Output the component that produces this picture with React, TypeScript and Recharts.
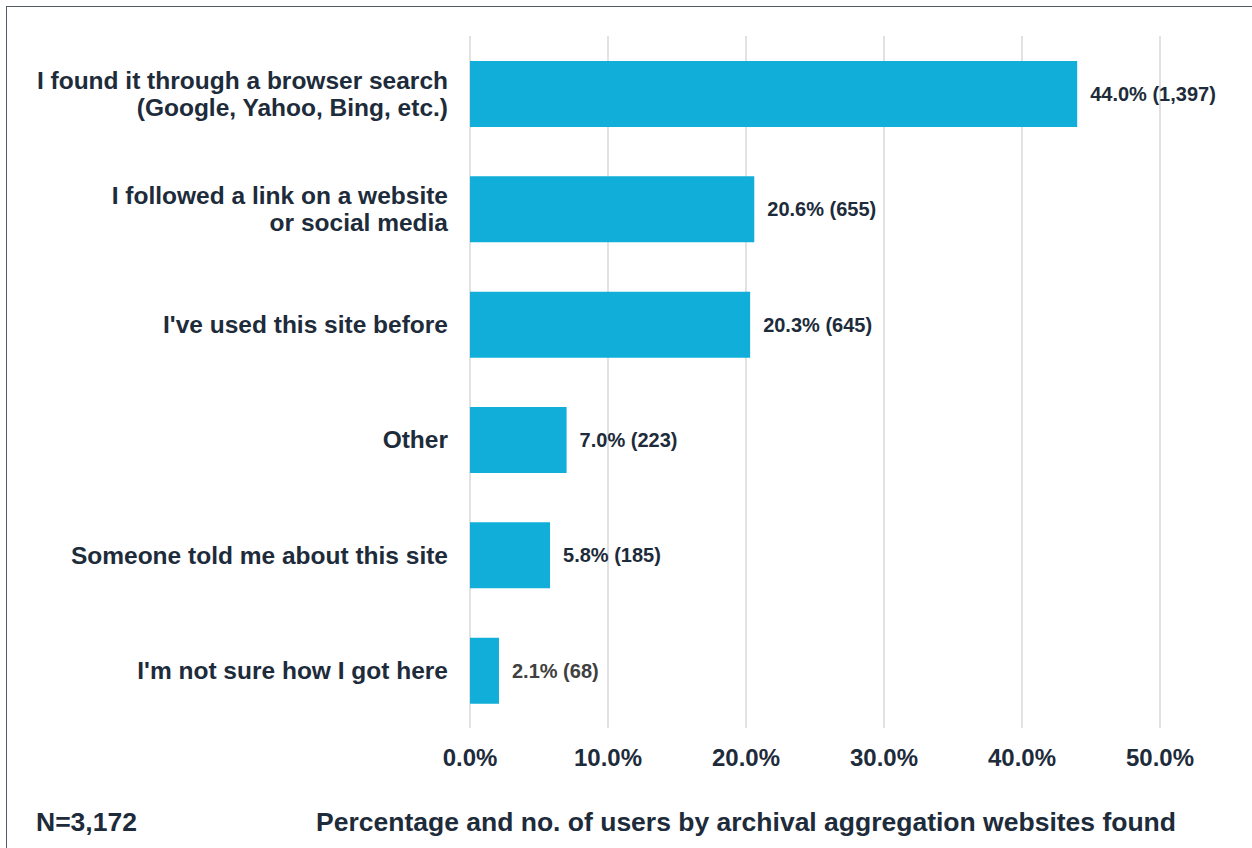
import React from "react";
import {
  BarChart,
  Bar,
  XAxis,
  YAxis,
  CartesianGrid,
  LabelList,
} from "recharts";

const categories = [
  "I found it through a browser search\n(Google, Yahoo, Bing, etc.)",
  "I followed a link on a website\nor social media",
  "I've used this site before",
  "Other",
  "Someone told me about this site",
  "I'm not sure how I got here",
];
const percents = [44.0, 20.6, 20.3, 7.0, 5.8, 2.1];
const counts = [1397, 655, 645, 223, 185, 68];
const xTicks = [0, 10, 20, 30, 40, 50];

const FONT = "'Liberation Sans', Arial, sans-serif";
const TEXT = "#1d2b3a";
const BAR = "#10aed8";

const data = categories.map((name, i) => ({
  name,
  value: percents[i],
  label: `${percents[i].toFixed(1)}% (${counts[i].toLocaleString("en-US")})`,
}));

function YTick(props: any) {
  const { y, payload } = props;
  const lines = String(payload.value).split("\n");
  const lh = 27;
  return (
    <text
      x={448}
      y={y}
      textAnchor="end"
      fontFamily={FONT}
      fontWeight="bold"
      fontSize={24.5}
      fill={TEXT}
    >
      {lines.map((l, i) => (
        <tspan
          key={i}
          x={448}
          dy={i === 0 ? 8.5 - ((lines.length - 1) * lh) / 2 : lh}
        >
          {l}
        </tspan>
      ))}
    </text>
  );
}

function XTick(props: any) {
  const { x, payload } = props;
  return (
    <text
      x={x}
      y={766}
      textAnchor="middle"
      fontFamily={FONT}
      fontWeight="bold"
      fontSize={24}
      fill={TEXT}
    >
      {Number(payload.value).toFixed(1) + "%"}
    </text>
  );
}

function BarLabel(props: any) {
  const { x, y, width, height, value, index } = props;
  const last = index === data.length - 1;
  return (
    <text
      x={Number(x) + Number(width) + 13}
      y={Number(y) + Number(height) / 2 + 7}
      fontFamily={FONT}
      fontWeight="bold"
      fontSize={20}
      fill={last ? "#404040" : TEXT}
    >
      {value}
    </text>
  );
}

export default function App() {
  return (
    <div
      style={{
        position: "absolute",
        left: 0,
        top: 0,
        width: 1252,
        height: 848,
        background: "#fff",
        overflow: "hidden",
        fontFamily: FONT,
      }}
    >
      <div
        style={{
          position: "absolute",
          left: 6,
          top: 6,
          width: 1300,
          height: 900,
          borderTop: "1.5px solid #555b63",
          borderLeft: "1.5px solid #555b63",
        }}
      />
      <div style={{ position: "absolute", left: 0, top: 0 }}>
        <BarChart
          width={1252}
          height={848}
          data={data}
          layout="vertical"
          margin={{ top: 36, right: 92, bottom: 70, left: 0 }}
        >
          <CartesianGrid
            horizontal={false}
            stroke="#d9d9d9"
            strokeWidth={1.5}
          />
          <XAxis
            type="number"
            domain={[0, 50]}
            ticks={xTicks}
            axisLine={false}
            tickLine={false}
            height={50}
            tick={<XTick />}
            interval={0}
          />
          <YAxis
            type="category"
            dataKey="name"
            width={470}
            axisLine={false}
            tickLine={false}
            tick={<YTick />}
            interval={0}
          />
          <Bar
            dataKey="value"
            fill={BAR}
            barSize={66}
            isAnimationActive={false}
          >
            <LabelList dataKey="label" content={<BarLabel />} />
          </Bar>
        </BarChart>
      </div>
      <div
        style={{
          position: "absolute",
          left: 36,
          top: 806,
          fontSize: 26.5,
          fontWeight: "bold",
          color: TEXT,
          lineHeight: "32px",
        }}
      >
        N=3,172
      </div>
      <div
        style={{
          position: "absolute",
          left: 316,
          top: 806,
          fontSize: 26.5,
          fontWeight: "bold",
          color: TEXT,
          lineHeight: "32px",
          whiteSpace: "nowrap",
        }}
      >
        Percentage and no. of users by archival aggregation websites found
      </div>
    </div>
  );
}
